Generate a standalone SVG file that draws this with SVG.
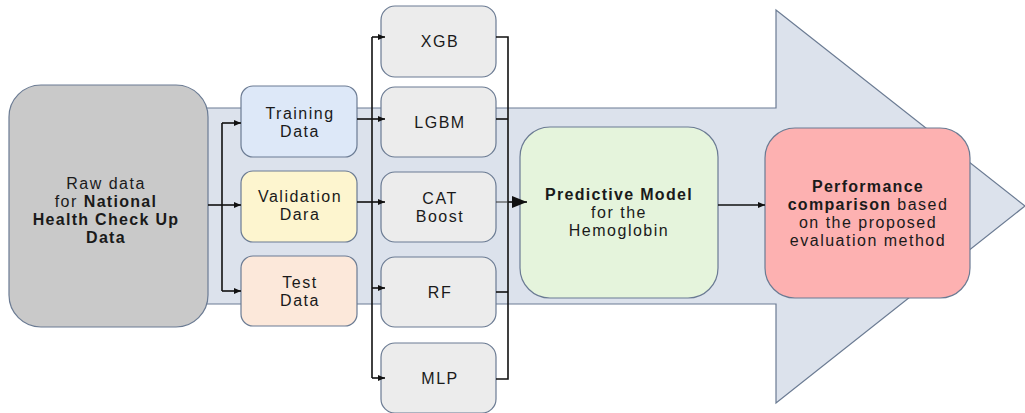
<svg xmlns="http://www.w3.org/2000/svg" width="1025" height="413" viewBox="0 0 1025 413">
<style>
text{font-family:"Liberation Sans",Arial,sans-serif;font-size:16px;letter-spacing:1.5px;fill:#1a1a1a;text-anchor:middle}
.b{font-weight:bold;letter-spacing:1.3px}
.box{stroke:#6b7b93;stroke-width:1.2}
.ln{fill:none;stroke:#111;stroke-width:1.6}
.thin{fill:none;stroke:#333;stroke-width:1}
</style>
<defs>
<marker id="a" markerWidth="8" markerHeight="8" refX="7" refY="4" orient="auto" markerUnits="userSpaceOnUse"><path d="M0,1 L7,4 L0,7 Z" fill="#111"/></marker>
<marker id="big" markerWidth="16" markerHeight="14" refX="15" refY="7" orient="auto" markerUnits="userSpaceOnUse"><path d="M0,1 L15,7 L0,13 Z" fill="#111"/></marker>
</defs>
<g id="bigArrow">
<path d="M20,108 L776,108 L776,10 L1025,206 L776,403 L776,304 L20,304 Z" fill="#dce2ec" stroke="#6b7b93" stroke-width="1.2"/>
</g>
<g id="raw">
<rect class="box" x="9" y="85" width="199" height="242" rx="32" fill="#c9c9c9"/>
<text x="106" y="189">Raw data</text>
<text x="106" y="207">for <tspan class="b">National</tspan></text>
<text x="106" y="225" class="b">Health Check Up</text>
<text x="106" y="243" class="b">Data</text>
</g>
<g id="training">
<rect class="box" x="241" y="86" width="116" height="71" rx="12" fill="#dde8f8"/>
<text x="300" y="119">Training</text>
<text x="300" y="137">Data</text>
</g>
<g id="validation">
<rect class="box" x="241" y="171" width="116" height="71" rx="12" fill="#fdf5cf"/>
<text x="300" y="202">Validation</text>
<text x="300" y="220">Dara</text>
</g>
<g id="test">
<rect class="box" x="241" y="256" width="116" height="70" rx="12" fill="#fce8da"/>
<text x="300" y="288">Test</text>
<text x="300" y="306">Data</text>
</g>
<g id="xgb">
<rect class="box" x="381" y="6" width="115" height="71" rx="14" fill="#ececec"/>
<text x="440" y="47">XGB</text>
</g>
<g id="lgbm">
<rect class="box" x="381" y="87" width="115" height="70" rx="14" fill="#ececec"/>
<text x="440" y="128">LGBM</text>
</g>
<g id="cat">
<rect class="box" x="381" y="172" width="115" height="70" rx="14" fill="#ececec"/>
<text x="440" y="204">CAT</text>
<text x="440" y="222">Boost</text>
</g>
<g id="rf">
<rect class="box" x="381" y="257" width="115" height="70" rx="14" fill="#ececec"/>
<text x="440" y="298">RF</text>
</g>
<g id="mlp">
<rect class="box" x="381" y="343" width="115" height="70" rx="14" fill="#ececec"/>
<text x="440" y="384">MLP</text>
</g>
<g id="predictive">
<rect class="box" x="520" y="127" width="198" height="171" rx="30" fill="#e5f4dc"/>
<text x="619" y="200" class="b">Predictive Model</text>
<text x="619" y="218">for the</text>
<text x="619" y="236">Hemoglobin</text>
</g>
<g id="performance">
<rect class="box" x="765" y="128" width="205" height="170" rx="30" fill="#fdb1b1"/>
<text x="868" y="192" class="b">Performance</text>
<text x="868" y="210"><tspan class="b">comparison</tspan> based</text>
<text x="868" y="228">on the proposed</text>
<text x="868" y="246">evaluation method</text>
</g>
<g id="connectors">
<path class="ln" d="M208,205 L222,205"/>
<path class="ln" d="M222,123 L222,291"/>
<path class="ln" d="M222,123 L241,123" marker-end="url(#a)"/>
<path class="ln" d="M222,205 L241,205" marker-end="url(#a)"/>
<path class="ln" d="M222,291 L241,291" marker-end="url(#a)"/>
<path class="ln" d="M372,37 L372,378"/>
<path class="ln" d="M372,37 L385,37" marker-end="url(#a)"/>
<path class="ln" d="M357,119 L385,119" marker-end="url(#a)"/>
<path class="ln" d="M357,202 L385,202" marker-end="url(#a)"/>
<path class="ln" d="M372,288 L385,288" marker-end="url(#a)"/>
<path class="ln" d="M372,378 L385,378" marker-end="url(#a)"/>
<path class="ln" d="M496,37 L508,37 L508,379 L496,379"/>
<path class="ln" d="M496,119 L508,119"/>
<path class="ln" d="M496,292 L508,292"/>
<path class="thin" d="M496,202 L508,202"/>
<path class="ln" d="M508,202 L527,202" marker-end="url(#big)"/>
<path class="ln" d="M718,205 L765,205" marker-end="url(#a)"/>
</g>
</svg>
